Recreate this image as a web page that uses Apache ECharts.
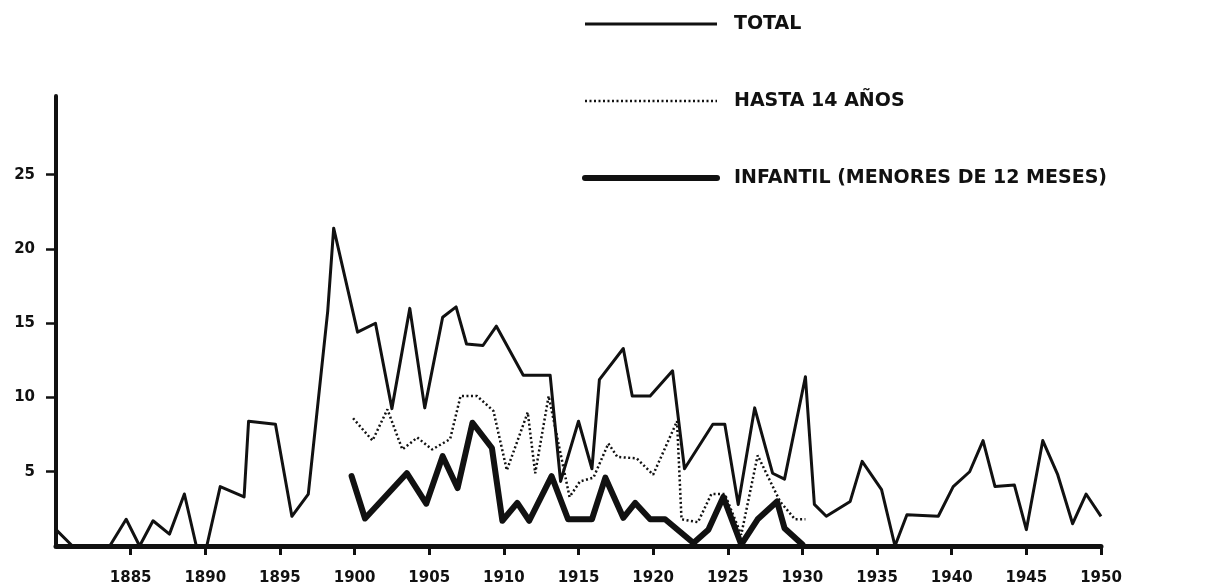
<!DOCTYPE html>
<html>
<head>
<meta charset="utf-8">
<script src="https://cdn.jsdelivr.net/npm/echarts@6/dist/echarts.min.js"></script>
<style>
  html, body { margin: 0; padding: 0; background: #fff; }
  #chart { width: 1213px; height: 588px; }
</style>
</head>
<body>
<div id="chart"></div>
<script>
// years (hand plotted, so not always on the exact year)
var totalYears = [1880.0, 1881.1, 1883.6, 1884.7, 1885.6, 1886.5, 1887.6, 1888.6, 1889.4, 1890.1,
    1891.0, 1892.6, 1892.9, 1894.7, 1895.8, 1896.9, 1898.2, 1898.6, 1900.2, 1901.4,
    1902.5, 1903.7, 1904.7, 1905.9, 1906.8, 1907.5, 1908.6, 1909.5, 1911.3, 1913.1,
    1913.8, 1915.0, 1915.9, 1916.4, 1918.0, 1918.6, 1919.8, 1921.3, 1922.1, 1924.0,
    1924.8, 1925.7, 1926.8, 1928.0, 1928.8, 1930.2, 1930.8, 1931.6, 1933.2, 1934.0,
    1935.3, 1936.2, 1937.0, 1939.1, 1940.1, 1941.2, 1942.1, 1942.9, 1944.2, 1945.0,
    1946.1, 1947.1, 1948.1, 1949.0, 1950.0];
var totalValues = [1.1, 0, 0, 1.8, 0, 1.7, 0.8, 3.5, 0, 0,
    4.0, 3.3, 8.4, 8.2, 2.0, 3.5, 15.8, 21.4, 14.4, 15.0,
    9.25, 16.0, 9.3, 15.4, 16.1, 13.6, 13.5, 14.8, 11.5, 11.5,
    4.35, 8.4, 5.2, 11.2, 13.3, 10.1, 10.1, 11.8, 5.2, 8.2,
    8.2, 2.8, 9.3, 4.9, 4.5, 11.4, 2.8, 2.0, 3.0, 5.7,
    3.8, 0, 2.1, 2.0, 4.0, 5.0, 7.1, 4.0, 4.1, 1.1,
    7.1, 4.8, 1.5, 3.5, 2.0];

var hastaYears = [1899.9, 1901.2, 1902.2, 1903.2, 1904.2, 1905.2, 1906.4, 1907.1, 1908.2, 1909.3,
    1910.2, 1911.6, 1912.1, 1913.0, 1914.4, 1915.1, 1916.0, 1917.0, 1917.6, 1918.9,
    1920.0, 1921.6, 1921.9, 1923.0, 1923.9, 1924.8, 1925.9, 1927.0, 1928.5, 1929.5, 1930.2];
var hastaValues = [8.6, 7.1, 9.2, 6.5, 7.3, 6.5, 7.2, 10.1, 10.1, 9.1,
    5.1, 9.0, 4.9, 10.1, 3.3, 4.35, 4.6, 6.9, 6.0, 5.9,
    4.8, 8.4, 1.8, 1.6, 3.5, 3.5, 0.75, 6.1, 3.0, 1.8, 1.8];

var infantilYears = [1899.8, 1900.7, 1903.5, 1904.8, 1905.9, 1906.9, 1907.9, 1909.2, 1909.9, 1910.9,
    1911.7, 1913.2, 1914.3, 1915.9, 1916.8, 1918.0, 1918.8, 1919.8, 1920.8, 1922.7,
    1923.7, 1924.7, 1925.9, 1927.0, 1928.3, 1928.8, 1930.0];
var infantilValues = [4.7, 1.85, 4.9, 2.85, 6.05, 3.9, 8.3, 6.6, 1.7, 2.9,
    1.7, 4.7, 1.8, 1.8, 4.6, 1.9, 2.9, 1.8, 1.8, 0.2,
    1.1, 3.3, 0.1, 1.8, 3.0, 1.2, 0.1];

var seriesNames = ['TOTAL', 'HASTA 14 AÑOS', 'INFANTIL (MENORES DE 12 MESES)'];
var xTicks = [1885, 1890, 1895, 1900, 1905, 1910, 1915, 1920, 1925, 1930, 1935, 1940, 1945, 1950];
var yTicks = [5, 10, 15, 20, 25];

function pairs(xs, ys) {
    var out = [];
    for (var i = 0; i < xs.length; i++) {
        out.push([xs[i], ys[i]]);
    }
    return out;
}

var ink = '#111';
var font = 'DejaVu Sans';

var totalLine = { color: ink, width: 3, join: 'round' };
var hastaLine = { color: ink, width: 2.5, type: [2, 2.5] };
var infantilLine = { color: ink, width: 6, join: 'round', cap: 'round' };

var chart = echarts.init(document.getElementById('chart'));

var option = {
    backgroundColor: '#fff',
    animation: false,
    grid: {
        left: 56,
        right: 112,
        top: 96,
        bottom: 42
    },
    legend: {
        orient: 'vertical',
        left: 577,
        top: 9,
        itemWidth: 132,
        itemHeight: 14,
        itemGap: 57,
        // hide the dot that ECharts puts on line legend icons
        itemStyle: { color: 'rgba(0,0,0,0)', borderWidth: 0 },
        data: [
            { name: seriesNames[0], lineStyle: { width: 3 } },
            { name: seriesNames[1], lineStyle: { width: 2.5, type: [2, 2.5] } },
            { name: seriesNames[2], lineStyle: { width: 6 } }
        ],
        textStyle: {
            color: ink,
            fontFamily: font,
            fontWeight: 'bold',
            fontSize: 19,
            lineHeight: 20,
            padding: [0, 0, 0, 12]
        }
    },
    xAxis: {
        type: 'value',
        min: 1880,
        max: 1950,
        interval: 5,
        axisLine: { show: true, lineStyle: { color: ink, width: 5 } },
        axisTick: {
            show: true,
            length: 9,
            customValues: xTicks,
            lineStyle: { color: ink, width: 3 }
        },
        axisLabel: {
            customValues: xTicks,
            margin: 25,
            color: ink,
            fontFamily: font,
            fontWeight: 'bold',
            fontSize: 15,
            formatter: function (v) { return String(v); }
        },
        splitLine: { show: false }
    },
    yAxis: {
        type: 'value',
        min: 0,
        max: 30.3,
        axisLine: { show: true, lineStyle: { color: ink, width: 4 } },
        axisTick: {
            show: true,
            length: 10,
            customValues: yTicks,
            lineStyle: { color: ink, width: 2.5 }
        },
        axisLabel: {
            customValues: yTicks,
            margin: 21,
            color: ink,
            fontFamily: font,
            fontWeight: 'bold',
            fontSize: 15
        },
        splitLine: { show: false }
    },
    series: [{
        name: seriesNames[0],
        type: 'line',
        symbol: 'none',
        lineStyle: totalLine,
        itemStyle: { color: ink },
        data: pairs(totalYears, totalValues)
    }, {
        name: seriesNames[1],
        type: 'line',
        symbol: 'none',
        lineStyle: hastaLine,
        itemStyle: { color: ink },
        data: pairs(hastaYears, hastaValues)
    }, {
        name: seriesNames[2],
        type: 'line',
        symbol: 'none',
        lineStyle: infantilLine,
        itemStyle: { color: ink },
        data: pairs(infantilYears, infantilValues)
    }]
};

chart.setOption(option);
</script>
</body>
</html>
